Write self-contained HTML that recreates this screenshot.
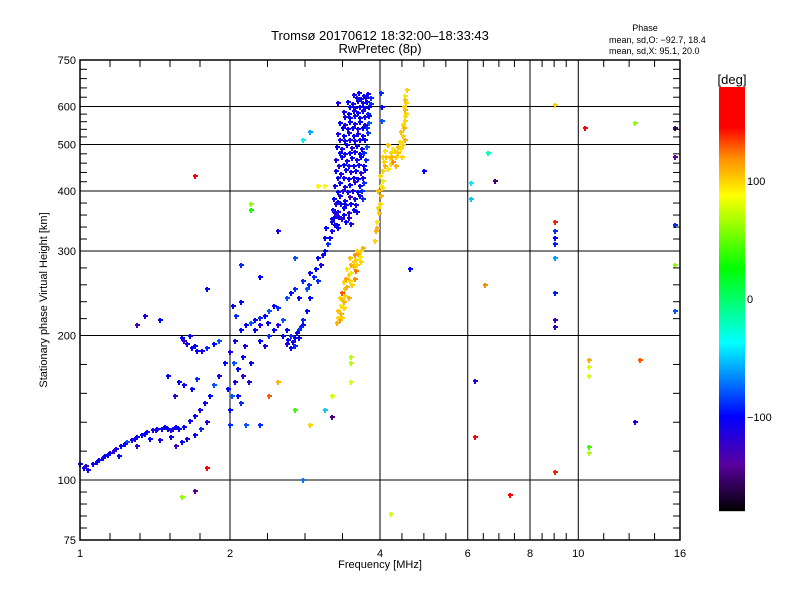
<!DOCTYPE html>
<html><head><meta charset="utf-8"><style>
body{margin:0;background:#fff}
svg text{font-family:"Liberation Sans",sans-serif;fill:#000}
</style></head><body>
<svg id="chart" width="800" height="600" xmlns="http://www.w3.org/2000/svg">
<rect width="800" height="600" fill="#fff"/>
<text x="380" y="40" font-size="13" text-anchor="middle">Tromsø 20170612 18:32:00–18:33:43</text>
<text x="380" y="53" font-size="13" text-anchor="middle">RwPretec (8p)</text>
<text x="645" y="31" font-size="9" text-anchor="middle">Phase</text>
<text x="609" y="43" font-size="9">mean, sd,O: −92.7, 18.4</text>
<text x="609" y="54" font-size="9">mean, sd,X:  95.1, 20.0</text>
<text transform="translate(47,300) rotate(-90)" font-size="11" text-anchor="middle">Stationary phase Virtual Height [km]</text>
<text x="380" y="568" font-size="11" text-anchor="middle">Frequency [MHz]</text>
<g id="grid"></g><g id="points" shape-rendering="crispEdges"></g><g id="axes"></g><g id="cbar"></g>
</svg>
<script>
const xTicks=[1,2,4,6,8,10,16];
const yTicks=[75,100,200,300,400,500,600,750];
const cbarTicks=[100,0,-100];
const oMode=[
[1.0,108,-95],[1.02,106,-100],[1.04,105,-110],[1.06,108,-100],[1.09,110,-105],[1.12,112,-100],[1.15,114,-110],[1.18,116,-105],[1.21,118,-100],[1.24,120,-80],[1.27,121,-110],[1.3,123,-105],[1.33,124,-100],[1.36,126,-110],[1.4,127,-105],[1.43,128,-100],[1.46,128,-105],[1.5,128,-100],[1.54,128,-110],[1.58,128,-105],[1.62,129,-100],[1.66,133,-105],[1.7,136,-100],[1.74,140,-110],[1.78,145,-105],[1.82,150,-100],[1.86,158,-80],[1.9,165,-105],[1.95,175,-100],[2.0,185,-110],[2.05,195,-105],[2.1,205,-100],[2.15,210,-105],[2.2,212,-80],[2.25,215,-100],[2.3,210,-110],[2.35,220,-100],[2.4,225,-80],[2.45,230,-100],[2.5,228,-90],
[1.03,107,-120],[1.08,109,-100],[1.11,111,-110],[1.14,113,-100],[1.17,115,-120],[1.23,119,-100],[1.29,122,-110],[1.35,125,-100],[1.42,127,-110],[1.48,129,-100],[1.52,127,-120],[1.56,129,-100],
[1.2,112,-100],[1.3,118,-120],[1.38,122,-100],[1.45,121,-110],[1.52,123,-100],[1.56,118,-130],[1.6,120,-100],[1.64,122,-110],[1.7,124,-100],[1.75,128,-90],[1.8,132,-110],
[1.58,160,-100],[1.62,158,-110],[1.68,155,-100],[1.72,162,-90],[1.5,165,-100],[1.55,150,-120],
[1.6,198,-100],[1.64,192,-110],[1.68,188,-100],[1.72,186,-100],[1.76,186,-110],[1.8,188,-90],[1.86,192,-100],[1.9,195,-80],[1.66,200,-100],[1.62,195,-120],[1.7,190,-100],
[2.0,140,-100],[2.02,150,-80],[2.05,160,-110],[2.08,170,-100],[2.1,145,-90],[2.12,180,-100],[2.15,130,-80],[2.18,160,-110],[2.03,230,-100],[2.06,220,-90],[2.1,235,-100],[2.14,190,-110],[2.2,175,-100],[2.0,130,-90],[1.98,155,-100],[2.04,175,-80],[2.08,150,-100],[2.12,165,-120],
[2.3,195,-100],[2.35,190,-110],[2.4,200,-90],[2.45,205,-100],[2.5,210,-110],[2.55,200,-100],[2.6,192,-110],[2.65,188,-100],[2.7,190,-90],[2.75,198,-100],[2.8,210,-110],[2.85,225,-100],[2.55,215,-80],[2.6,205,-100],[2.65,200,-90],[2.7,198,-100],[2.75,205,-90],[2.8,215,-90],
[2.25,205,-100],[2.3,218,-90],[2.38,212,-100],[2.62,196,-100],[2.68,194,-110],[2.72,202,-100],[2.78,208,-90],
[2.6,240,-80],[2.65,245,-100],[2.7,250,-90],[2.75,240,-100],[2.8,260,-90],[2.85,250,-80],[2.9,270,-100],[2.95,265,-90],[3.0,290,-100],[3.05,280,-110],[3.1,320,-100],[3.15,310,-90],[3.2,350,-100],[3.25,340,-110],[3.3,380,-100],[2.9,240,-100],[3.0,260,-90],[3.1,300,-100],[3.2,330,-110],[3.25,360,-120],[3.3,335,-100],
[2.98,275,-100],[3.08,295,-110],[3.18,320,-100],[3.28,355,-120],[2.88,255,-90],[3.12,335,-100],
[3.2,345,-110],[3.28,340,-100],[3.35,350,-120],[3.42,345,-100],[3.5,342,-110],
[3.22,365,-100],[3.3,362,-110],[3.38,368,-100],[3.46,360,-120],[3.54,365,-100],[3.6,362,-110],
[3.24,385,-100],[3.32,390,-110],[3.4,382,-100],[3.48,388,-130],[3.56,385,-100],[3.64,390,-110],[3.7,385,-90],
[3.25,410,-110],[3.33,415,-100],[3.41,408,-110],[3.49,412,-100],[3.57,418,-120],[3.65,410,-100],[3.72,415,-90],
[3.26,440,-100],[3.34,435,-110],[3.42,442,-100],[3.5,438,-110],[3.58,440,-100],[3.66,436,-120],[3.74,442,-100],
[3.27,465,-110],[3.35,470,-100],[3.43,462,-110],[3.51,468,-100],[3.59,465,-110],[3.67,470,-100],[3.75,465,-90],
[3.28,495,-100],[3.36,490,-110],[3.44,498,-100],[3.52,492,-120],[3.6,496,-100],[3.68,490,-110],[3.76,495,-80],
[3.3,525,-110],[3.38,520,-100],[3.46,528,-110],[3.54,522,-100],[3.62,525,-110],[3.7,520,-100],[3.78,528,-90],
[3.33,555,-100],[3.41,550,-110],[3.49,558,-100],[3.57,552,-110],[3.65,556,-100],[3.73,550,-110],[3.8,555,-80],
[3.38,585,-110],[3.46,580,-100],[3.54,588,-110],[3.62,582,-100],[3.7,586,-110],[3.78,580,-90],
[3.45,612,-100],[3.53,608,-110],[3.61,615,-100],[3.69,610,-110],[3.77,612,-100],[3.84,608,-90],
[3.55,635,-110],[3.63,640,-100],[3.71,632,-100],[3.79,638,-110],[4.02,640,-90],[4.04,600,-100],[4.03,560,-80],
[3.24,352,-100],[3.31,354,-110],[3.39,356,-100],[3.46,352,-120],[3.26,375,-110],[3.34,376,-100],[3.42,374,-110],[3.5,376,-100],[3.58,374,-110],
[3.29,398,-100],[3.37,400,-120],[3.45,398,-100],[3.53,400,-110],[3.61,398,-100],[3.68,400,-90],
[3.3,425,-100],[3.38,426,-110],[3.46,424,-100],[3.54,426,-110],[3.62,424,-100],[3.7,426,-110],
[3.31,452,-110],[3.39,454,-100],[3.47,450,-110],[3.55,452,-100],[3.63,454,-110],[3.71,452,-100],
[3.32,480,-100],[3.4,478,-110],[3.48,480,-100],[3.56,482,-110],[3.64,478,-100],[3.72,480,-90],
[3.33,510,-110],[3.41,508,-100],[3.49,512,-110],[3.57,508,-100],[3.65,510,-110],[3.73,512,-100],
[3.37,540,-100],[3.45,538,-110],[3.53,542,-100],[3.61,538,-110],[3.69,540,-100],[3.77,542,-90],
[3.41,570,-110],[3.49,568,-100],[3.57,572,-110],[3.65,568,-100],[3.73,570,-110],[3.81,572,-100],
[3.49,598,-100],[3.57,596,-110],[3.65,600,-100],[3.73,596,-110],[3.81,600,-100],
[3.59,625,-110],[3.67,622,-100],[3.75,626,-110],[3.83,624,-90]
];
const xMode=[
[3.28,212,110],[3.32,215,120],[3.36,218,100],[3.3,225,105],[3.34,230,95],[3.38,235,110],[3.32,240,100],[3.36,245,130],[3.4,250,105],[3.38,258,100],[3.42,262,115],[3.46,268,100],[3.44,275,95],[3.5,280,110],[3.54,285,100],[3.48,290,105],[3.56,295,120],[3.6,300,100],[3.64,292,95],[3.7,305,110],[3.66,285,100],[3.58,272,125],[3.52,255,100],[3.46,240,110],
[3.3,218,100],[3.34,222,110],[3.38,228,100],[3.36,238,105],[3.4,242,100],[3.44,252,110],[3.48,260,100],[3.5,270,95],[3.54,278,105],[3.58,288,100],[3.62,296,110],[3.66,300,100],[3.56,262,120],[3.6,280,100],
[3.9,315,100],[3.92,330,110],[3.95,345,95],[3.98,360,105],[4.0,375,100],[4.02,390,110],[4.04,405,100],[4.06,420,95],[3.97,400,105],[4.0,430,100],[3.94,335,110],[3.96,368,100],[4.02,410,95],
[4.05,440,100],[4.1,450,110],[4.15,445,95],[4.2,455,100],[4.25,460,120],[4.3,470,100],[4.35,480,105],[4.4,490,95],[4.45,500,100],[4.48,510,110],[4.05,470,100],[4.1,485,95],[4.15,500,105],[4.2,480,100],[4.3,450,110],[4.42,470,100],
[4.08,460,100],[4.12,470,105],[4.18,468,100],[4.22,472,110],[4.28,485,100],[4.34,495,105],[4.38,505,100],[4.25,490,95],
[4.4,530,105],[4.45,550,100],[4.48,570,95],[4.5,590,110],[4.52,610,100],[4.5,630,95],[4.54,650,100],[4.46,600,100],[4.44,520,100],[4.47,540,110],[4.5,560,100],[4.52,580,100],[4.48,620,105]
];
const noise=[
[1.7,430,150],[2.2,365,30],[2.2,375,60],[3.3,610,-110],[2.9,530,-60],[2.8,510,-40],[3.0,410,90],[3.1,410,90],[6.1,415,-40],[6.1,385,-50],[6.6,480,-20],[6.8,420,-150],[9,605,100],[10.3,540,160],[13,555,60],[15.6,540,-150],[15.6,470,-140],[15.6,340,-90],[15.6,280,60],[15.6,225,-80],[9,345,140],[9,330,-90],[9,320,-100],[9,310,-95],[9,290,-60],[9,245,-95],[9,215,-130],[9,208,-120],[10.5,178,110],[10.5,172,80],[10.5,165,80],[10.5,117,40],[10.5,114,70],[13.3,178,130],[13,132,-110],[9,104,140],[7.3,93,170],[6.2,123,150],[6.2,161,-110],[6.5,255,120],[4.6,275,-100],[4.2,85,80],[3.5,180,70],[3.5,175,70],[3.5,160,80],[3.2,150,80],[3.2,135,-150],[2.9,130,100],[2.7,140,40],[2.5,160,110],[2.4,150,130],[2.3,130,-90],[1.6,92,60],[1.7,95,-140],[1.8,106,160],[2.8,100,-70],[3.1,140,-50],[4.9,440,-100],[1.35,220,-110],[1.3,210,-130],[1.45,215,-100],[1.8,250,-100],[2.3,265,-100],[2.1,280,-90],[2.7,290,-80],[2.5,330,-110]
];
const X0=80,X1=680,Y0=540,Y1=60;
const fx=f=>X0+(X1-X0)*Math.log(f)/Math.log(16);
const fy=h=>Y0-(Y0-Y1)*Math.log(h/75)/Math.log(10);
const NS="http://www.w3.org/2000/svg";
function mk(tag,attrs,parent){const e=document.createElementNS(NS,tag);for(const k in attrs)e.setAttribute(k,attrs[k]);parent.appendChild(e);return e;}
const stops=[[180,[255,0,0]],[146,[255,0,0]],[120,[255,140,0]],[88,[255,255,0]],[26,[0,255,0]],[-37,[0,255,255]],[-100,[0,0,255]],[-140,[90,0,160]],[-180,[0,0,0]]];
function col(p){p=Math.max(-180,Math.min(180,p));for(let i=0;i<stops.length-1;i++){const a=stops[i],b=stops[i+1];if(p<=a[0]&&p>=b[0]){const t=(a[0]-p)/(a[0]-b[0]||1);const c=a[1].map((v,j)=>Math.round(v+(b[1][j]-v)*t));return `rgb(${c})`;}}return '#000';}
const grid=document.getElementById('grid'),axes=document.getElementById('axes'),pts=document.getElementById('points'),cb=document.getElementById('cbar');
[2,4,6,8,10].forEach(v=>{const l=mk('line',{x1:fx(v),x2:fx(v),y1:Y0,y2:Y1,stroke:'#000','stroke-width':1},grid);

});
[100,200,300,400,500,600].forEach(v=>{const l=mk('line',{x1:X0,x2:X1,y1:fy(v),y2:fy(v),stroke:'#000','stroke-width':1},grid);

});
function plot(arr,name){arr.forEach(d=>{const x=Math.round(fx(d[0])),y=Math.round(fy(d[1]));const c=col(d[2]);
const p=mk('path',{d:`M${x-2} ${y-1}h5v2h-5zM${x-1} ${y-2}h2v5h-2z`,fill:c},pts);

});}
plot(oMode,'o-mode-point');plot(xMode,'x-mode-point');plot(noise,'noise-point');
const fr=mk('rect',{x:X0,y:Y1,width:X1-X0,height:Y0-Y1,fill:'none',stroke:'#000','stroke-width':1.5},axes);


for(let i=0;i<xTicks.length-1;i++){const a=fx(xTicks[i]),b=fx(xTicks[i+1]);const n=(i==0)?5:4;
for(let k=1;k<n;k++){const x=a+(b-a)*k/n;mk('line',{x1:x,x2:x,y1:Y0,y2:Y0-7,stroke:'#000'},axes);mk('line',{x1:x,x2:x,y1:Y1,y2:Y1+7,stroke:'#000'},axes);}}
xTicks.forEach(v=>{const t=mk('text',{x:fx(v),y:Y0+17,'font-size':11,'text-anchor':'middle'},axes);t.textContent=v;

});
for(let i=0;i<yTicks.length-1;i++){const a=fy(yTicks[i]),b=fy(yTicks[i+1]);const n=5;
for(let k=1;k<n;k++){const y=a+(b-a)*k/n;mk('line',{x1:X0,x2:X0+7,y1:y,y2:y,stroke:'#000'},axes);mk('line',{x1:X1,x2:X1-7,y1:y,y2:y,stroke:'#000'},axes);}}
yTicks.forEach(v=>{const t=mk('text',{x:X0-4,y:fy(v)+4,'font-size':11,'text-anchor':'end'},axes);t.textContent=v;

});
const CX=719,CW=26,CT=87,CB=511;
const cy=p=>CT+(180-p)*(CB-CT)/360;
for(let y=CT;y<CB;y++){mk('rect',{x:CX,y:y,width:CW,height:1.2,fill:col(180-(y-CT+0.5)*360/(CB-CT))},cb);}


const u=mk('text',{x:CX+CW/2,y:CT-3,'font-size':13,'text-anchor':'middle'},cb);u.textContent='[deg]';


cbarTicks.forEach(v=>{const t=mk('text',{x:CX+CW+2,y:cy(v)+4,'font-size':11},cb);t.textContent=(v<0?'−'+(-v):v);

});
</script>
</body></html>
